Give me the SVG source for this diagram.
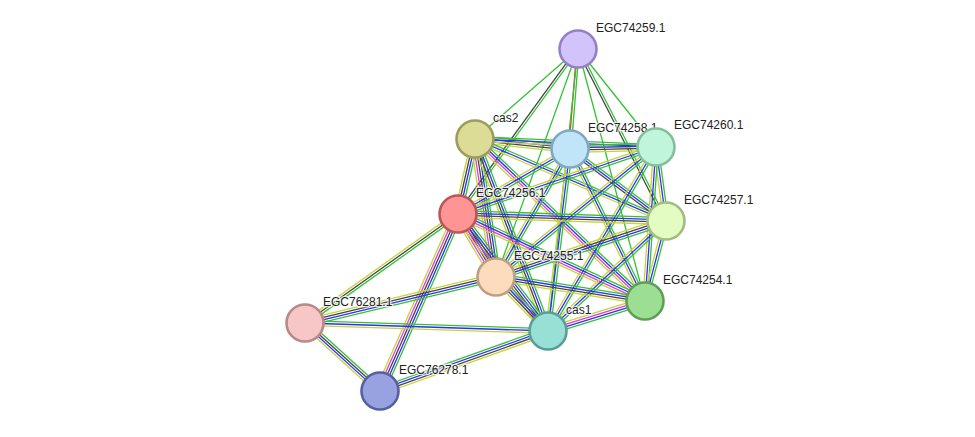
<svg xmlns="http://www.w3.org/2000/svg" width="975" height="437" viewBox="0 0 975 437">
<style>
line{stroke-width:1.3;fill:none}
.g{stroke:#33c233}.b{stroke:#3030f0}.k{stroke:#444}.y{stroke:#c4d43a}.m{stroke:#e03ce0}.r{stroke:#f03030}
.n{stroke-width:2.6}
text{font-family:"Liberation Sans",Arial,sans-serif;font-size:12px;fill:#222;stroke:#fff;stroke-width:2.5;stroke-opacity:0.75;paint-order:stroke;stroke-linejoin:round}
</style>
<rect width="975" height="437" fill="#fff"/>
<g id="edges">
<g transform="matrix(-0.753 0.658 -0.658 -0.753 578 49)"><line x2="136.8" class="g"/></g>
<g transform="matrix(-0.588 0.809 -0.809 -0.588 578 49)"><line x2="204" y1="-1.15" y2="-1.15" class="g"/><line x2="204" y1="1.15" y2="1.15" class="k"/></g>
<g transform="matrix(-0.338 0.941 -0.941 -0.338 578 49)"><line x2="242.3" class="g"/></g>
<g transform="matrix(-0.080 0.997 -0.997 -0.080 578 49)"><line x2="100.3" y1="-1.15" y2="-1.15" class="g"/><line x2="100.3" y1="1.15" y2="1.15" class="r"/></g>
<g transform="matrix(-0.106 0.994 -0.994 -0.106 578 49)"><line x2="283.6" class="g"/></g>
<g transform="matrix(0.257 0.966 -0.966 0.257 578 49)"><line x2="260.8" class="g"/></g>
<g transform="matrix(0.455 0.890 -0.890 0.455 578 49)"><line x2="193.2" y1="-1.15" y2="-1.15" class="g"/><line x2="193.2" y1="1.15" y2="1.15" class="k"/></g>
<g transform="matrix(0.623 0.782 -0.782 0.623 578 49)"><line x2="125.3" class="g"/></g>

<g transform="matrix(0.995 0.105 -0.105 0.995 475 139)"><line x2="95.5" y1="-3.45" y2="-3.45" class="g"/><line x2="95.5" y1="-1.15" y2="-1.15" class="b"/><line x2="95.5" y1="1.15" y2="1.15" class="k"/><line x2="95.5" y1="3.45" y2="3.45" class="y"/></g>
<g transform="matrix(0.999 0.044 -0.044 0.999 475 139)"><line x2="181.2" y1="-2.3" y2="-2.3" class="g"/><line x2="181.2" class="b"/><line x2="181.2" y1="2.3" y2="2.3" class="y"/></g>
<g transform="matrix(-0.221 0.975 -0.975 -0.221 475 139)"><line x2="76.9" y1="-3.45" y2="-3.45" class="g"/><line x2="76.9" y1="-1.15" y2="-1.15" class="b"/><line x2="76.9" y1="1.15" y2="1.15" class="k"/><line x2="76.9" y1="3.45" y2="3.45" class="y"/></g>
<g transform="matrix(0.919 0.394 -0.394 0.919 475 139)"><line x2="207.9" y1="-2.3" y2="-2.3" class="g"/><line x2="207.9" class="b"/><line x2="207.9" y1="2.3" y2="2.3" class="y"/></g>
<g transform="matrix(0.150 0.989 -0.989 0.150 475 139)"><line x2="139.6" y1="-4.6" y2="-4.6" class="g"/><line x2="139.6" y1="-2.3" y2="-2.3" class="b"/><line x2="139.6" class="k"/><line x2="139.6" y1="2.3" y2="2.3" class="m"/><line x2="139.6" y1="4.6" y2="4.6" class="y"/></g>
<g transform="matrix(0.724 0.690 -0.690 0.724 475 139)"><line x2="234.8" y1="-3.45" y2="-3.45" class="g"/><line x2="234.8" y1="-1.15" y2="-1.15" class="b"/><line x2="234.8" y1="1.15" y2="1.15" class="m"/><line x2="234.8" y1="3.45" y2="3.45" class="y"/></g>
<g transform="matrix(0.355 0.935 -0.935 0.355 475 139)"><line x2="205.4" y1="-3.45" y2="-3.45" class="g"/><line x2="205.4" y1="-1.15" y2="-1.15" class="b"/><line x2="205.4" y1="1.15" y2="1.15" class="k"/><line x2="205.4" y1="3.45" y2="3.45" class="y"/></g>

<g transform="matrix(1 -0.023 0.023 1 570 149)"><line x2="86" y1="-3.45" y2="-3.45" class="g"/><line x2="86" y1="-1.15" y2="-1.15" class="b"/><line x2="86" y1="1.15" y2="1.15" class="k"/><line x2="86" y1="3.45" y2="3.45" class="y"/></g>
<g transform="matrix(-0.865 0.502 -0.502 -0.865 570 149)"><line x2="129.5" y1="-2.3" y2="-2.3" class="g"/><line x2="129.5" class="b"/><line x2="129.5" y1="2.3" y2="2.3" class="y"/></g>
<g transform="matrix(0.8 0.6 -0.6 0.8 570 149)"><line x2="120" y1="-2.3" y2="-2.3" class="g"/><line x2="120" class="b"/><line x2="120" y1="2.3" y2="2.3" class="k"/></g>
<g transform="matrix(-0.500 0.866 -0.866 -0.500 570 149)"><line x2="147.9" y1="-2.3" y2="-2.3" class="g"/><line x2="147.9" class="b"/><line x2="147.9" y1="2.3" y2="2.3" class="y"/></g>
<g transform="matrix(0.442 0.897 -0.897 0.442 570 149)"><line x2="169.5" y1="-2.3" y2="-2.3" class="g"/><line x2="169.5" class="b"/><line x2="169.5" y1="2.3" y2="2.3" class="y"/></g>
<g transform="matrix(-0.120 0.993 -0.993 -0.120 570 149)"><line x2="183.3" y1="-2.3" y2="-2.3" class="g"/><line x2="183.3" class="b"/><line x2="183.3" y1="2.3" y2="2.3" class="y"/></g>

<g transform="matrix(-0.947 0.321 -0.321 -0.947 656 147)"><line x2="209" y1="-2.3" y2="-2.3" class="g"/><line x2="209" class="b"/><line x2="209" y1="2.3" y2="2.3" class="y"/></g>
<g transform="matrix(0.134 0.991 -0.991 0.134 656 147)"><line x2="74.7" y1="-2.3" y2="-2.3" class="g"/><line x2="74.7" class="b"/><line x2="74.7" y1="2.3" y2="2.3" class="y"/></g>
<g transform="matrix(-0.776 0.630 -0.630 -0.776 656 147)"><line x2="206.2" y1="-2.3" y2="-2.3" class="g"/><line x2="206.2" class="b"/><line x2="206.2" y1="2.3" y2="2.3" class="y"/></g>
<g transform="matrix(-0.071 0.997 -0.997 -0.071 656 147)"><line x2="154.4" y1="-2.3" y2="-2.3" class="g"/><line x2="154.4" class="b"/><line x2="154.4" y1="2.3" y2="2.3" class="y"/></g>
<g transform="matrix(-0.506 0.862 -0.862 -0.506 656 147)"><line x2="213.4" y1="-2.3" y2="-2.3" class="g"/><line x2="213.4" class="b"/><line x2="213.4" y1="2.3" y2="2.3" class="y"/></g>

<g transform="matrix(0.9995 0.034 -0.034 0.9995 458 214)"><line x2="208.1" y1="-3.45" y2="-3.45" class="g"/><line x2="208.1" y1="-1.15" y2="-1.15" class="b"/><line x2="208.1" y1="1.15" y2="1.15" class="k"/><line x2="208.1" y1="3.45" y2="3.45" class="y"/></g>
<g transform="matrix(0.516 0.856 -0.856 0.516 458 214)"><line x2="73.6" y1="-4.6" y2="-4.6" class="g"/><line x2="73.6" y1="-2.3" y2="-2.3" class="b"/><line x2="73.6" class="k"/><line x2="73.6" y1="2.3" y2="2.3" class="m"/><line x2="73.6" y1="4.6" y2="4.6" class="y"/></g>
<g transform="matrix(0.907 0.422 -0.422 0.907 458 214)"><line x2="206.2" y1="-3.45" y2="-3.45" class="g"/><line x2="206.2" y1="-1.15" y2="-1.15" class="b"/><line x2="206.2" y1="1.15" y2="1.15" class="m"/><line x2="206.2" y1="3.45" y2="3.45" class="y"/></g>
<g transform="matrix(0.610 0.793 -0.793 0.610 458 214)"><line x2="147.6" y1="-4.6" y2="-4.6" class="g"/><line x2="147.6" y1="-2.3" y2="-2.3" class="b"/><line x2="147.6" class="k"/><line x2="147.6" y1="2.3" y2="2.3" class="m"/><line x2="147.6" y1="4.6" y2="4.6" class="y"/></g>
<g transform="matrix(-0.814 0.580 -0.580 -0.814 458 214)"><line x2="187.9" y1="-2.3" y2="-2.3" class="g"/><line x2="187.9" class="k"/><line x2="187.9" y1="2.3" y2="2.3" class="y"/></g>
<g transform="matrix(-0.403 0.915 -0.915 -0.403 458 214)"><line x2="193.4" y1="-4.6" y2="-4.6" class="g"/><line x2="193.4" y1="-2.3" y2="-2.3" class="b"/><line x2="193.4" class="k"/><line x2="193.4" y1="2.3" y2="2.3" class="m"/><line x2="193.4" y1="4.6" y2="4.6" class="y"/></g>

<g transform="matrix(-0.950 0.313 -0.313 -0.950 666 221)"><line x2="179" y1="-3.45" y2="-3.45" class="g"/><line x2="179" y1="-1.15" y2="-1.15" class="b"/><line x2="179" y1="1.15" y2="1.15" class="k"/><line x2="179" y1="3.45" y2="3.45" class="y"/></g>
<g transform="matrix(-0.254 0.967 -0.967 -0.254 666 221)"><line x2="82.7" y1="-2.3" y2="-2.3" class="g"/><line x2="82.7" class="b"/><line x2="82.7" y1="2.3" y2="2.3" class="y"/></g>
<g transform="matrix(-0.732 0.682 -0.682 -0.732 666 221)"><line x2="161.3" y1="-2.3" y2="-2.3" class="g"/><line x2="161.3" class="b"/><line x2="161.3" y1="2.3" y2="2.3" class="y"/></g>

<g transform="matrix(0.987 0.159 -0.159 0.987 496 277)"><line x2="150.9" y1="-3.45" y2="-3.45" class="g"/><line x2="150.9" y1="-1.15" y2="-1.15" class="b"/><line x2="150.9" y1="1.15" y2="1.15" class="k"/><line x2="150.9" y1="3.45" y2="3.45" class="y"/></g>
<g transform="matrix(0.693 0.720 -0.720 0.693 496 277)"><line x2="75" y1="-3.45" y2="-3.45" class="g"/><line x2="75" y1="-1.15" y2="-1.15" class="b"/><line x2="75" y1="1.15" y2="1.15" class="k"/><line x2="75" y1="3.45" y2="3.45" class="y"/></g>
<g transform="matrix(-0.972 0.234 -0.234 -0.972 496 277)"><line x2="196.5" y1="-3.45" y2="-3.45" class="g"/><line x2="196.5" y1="-1.15" y2="-1.15" class="b"/><line x2="196.5" y1="1.15" y2="1.15" class="k"/><line x2="196.5" y1="3.45" y2="3.45" class="y"/></g>

<g transform="matrix(-0.956 0.296 -0.296 -0.956 645 301)"><line x2="101.5" y1="-3.45" y2="-3.45" class="g"/><line x2="101.5" y1="-1.15" y2="-1.15" class="b"/><line x2="101.5" y1="1.15" y2="1.15" class="m"/><line x2="101.5" y1="3.45" y2="3.45" class="y"/></g>

<g transform="matrix(0.9995 0.033 -0.033 0.9995 305 323)"><line x2="243.1" y1="-2.3" y2="-2.3" class="g"/><line x2="243.1" class="b"/><line x2="243.1" y1="2.3" y2="2.3" class="y"/></g>
<g transform="matrix(0.741 0.672 -0.672 0.741 305 323)"><line x2="101.2" y1="-3.45" y2="-3.45" class="g"/><line x2="101.2" y1="-1.15" y2="-1.15" class="k"/><line x2="101.2" y1="1.15" y2="1.15" class="b"/><line x2="101.2" y1="3.45" y2="3.45" class="y"/></g>

<g transform="matrix(0.942 -0.336 0.336 0.942 380 391)"><line x2="178.4" y1="-3.45" y2="-3.45" class="g"/><line x2="178.4" y1="-1.15" y2="-1.15" class="b"/><line x2="178.4" y1="1.15" y2="1.15" class="k"/><line x2="178.4" y1="3.45" y2="3.45" class="y"/></g>
</g>

<g id="EGC74259.1"><circle class="n" cx="578" cy="49" r="18.5" fill="#d2c3fb" stroke="#9580c8"/><text x="596" y="32">EGC74259.1</text></g>
<g id="cas2"><circle class="n" cx="475" cy="139" r="18.5" fill="#dcdc96" stroke="#9c9c5c"/><text x="493" y="122">cas2</text></g>
<g id="EGC74258.1"><circle class="n" cx="570" cy="149" r="18.5" fill="#c0e4f8" stroke="#80a8c4"/><text x="588" y="132">EGC74258.1</text></g>
<g id="EGC74260.1"><circle class="n" cx="656" cy="147" r="18.5" fill="#c0f5dc" stroke="#84bf9c"/><text x="674" y="129">EGC74260.1</text></g>
<g id="EGC74256.1"><circle class="n" cx="458" cy="214" r="18.5" fill="#ff9494" stroke="#bc5656"/><text x="476" y="197">EGC74256.1</text></g>
<g id="EGC74257.1"><circle class="n" cx="666" cy="221" r="18.5" fill="#e2fcc2" stroke="#a2bc82"/><text x="684" y="204">EGC74257.1</text></g>
<g id="EGC74255.1"><circle class="n" cx="496" cy="277" r="18.5" fill="#fddcbe" stroke="#bea080"/><text x="514" y="260">EGC74255.1</text></g>
<g id="EGC74254.1"><circle class="n" cx="645" cy="301" r="18.5" fill="#9cdf94" stroke="#5e9f56"/><text x="663" y="284">EGC74254.1</text></g>
<g id="EGC76281.1"><circle class="n" cx="305" cy="323" r="18.5" fill="#f7c7c7" stroke="#b98888"/><text x="323" y="306">EGC76281.1</text></g>
<g id="cas1"><circle class="n" cx="548" cy="331" r="18.5" fill="#98e0d6" stroke="#5a9e96"/><text x="566" y="314">cas1</text></g>
<g id="EGC76278.1"><circle class="n" cx="380" cy="391" r="18.5" fill="#98a2e0" stroke="#5860a0"/><text x="399" y="374">EGC76278.1</text></g>
</svg>
